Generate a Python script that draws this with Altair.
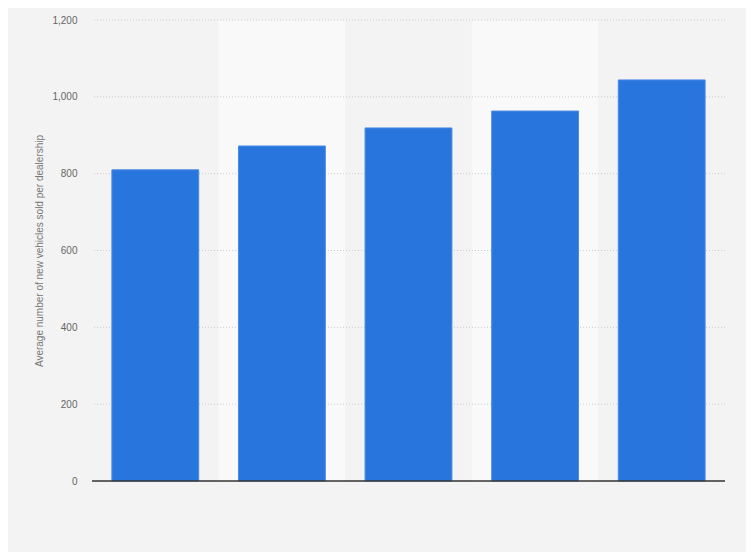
import pandas as pd
import altair as alt

# --- dati ---
categories = ["2016", "2017", "2018", "2019", "2020"]
values = [810, 872, 919, 963, 1044]
band_shade = ["odd", "even", "odd", "even", "odd"]
y_ticks = [200, 400, 600, 800, 1000, 1200]

df = pd.DataFrame({"cat": categories, "value": values, "shade": band_shade})

W, H = 633, 461
y_scale = alt.Scale(domain=[0, 1200])

y_axis = alt.Axis(
    title="Average number of new vehicles sold per dealership",
    values=[0] + y_ticks,
    format=",d",
    domain=False, ticks=False, grid=False,
    labelPadding=15, labelFontSize=10, labelColor="#666",
    labelFont="Liberation Sans",
    titleFontSize=10, titleColor="#777", titleFontWeight="normal",
    titleFont="Liberation Sans", titlePadding=7,
)

# --- fasce alternate dietro le barre ---
bands = alt.Chart(df).mark_rect().encode(
    x=alt.X("cat:N", sort=categories, axis=None,
            scale=alt.Scale(paddingInner=0, paddingOuter=0)),
    y=alt.value(0),
    y2=alt.value(H),
    color=alt.Color("shade:N", scale=alt.Scale(domain=["odd", "even"],
                                               range=["#f3f3f3", "#f9f9f9"]),
                    legend=None),
)

# griglia punteggiata (sopra le fasce, sotto le barre)
grid = alt.Chart(pd.DataFrame({"value": y_ticks})).mark_rule(
    color="#cccccc", strokeDash=[1, 2], strokeWidth=1
).encode(
    y=alt.Y("value:Q", scale=y_scale, axis=y_axis)
)

bars = alt.Chart(df).mark_bar(color="#2876dd", stroke="#4a8be4", strokeWidth=1).encode(
    x=alt.X("cat:N", sort=categories, axis=None,
            scale=alt.Scale(paddingInner=0.314, paddingOuter=0.157)),
    y=alt.Y("value:Q", scale=y_scale, axis=y_axis),
)

baseline = alt.Chart(pd.DataFrame({"value": [0]})).mark_rule(
    color="#333", strokeWidth=1.5
).encode(
    y=alt.Y("value:Q", scale=y_scale, axis=y_axis)
)

chart = alt.layer(bands, grid, bars, baseline).resolve_scale(
    x="independent", color="independent"
).properties(
    width=W, height=H,
    autosize=alt.AutoSizeParams(type="none"),
    padding={"left": 84, "top": 12, "right": 21, "bottom": 71},
    background="#f3f3f3",
).configure_view(strokeWidth=0)

chart.save("out.html", embed_options={"renderer": "svg", "actions": False})
